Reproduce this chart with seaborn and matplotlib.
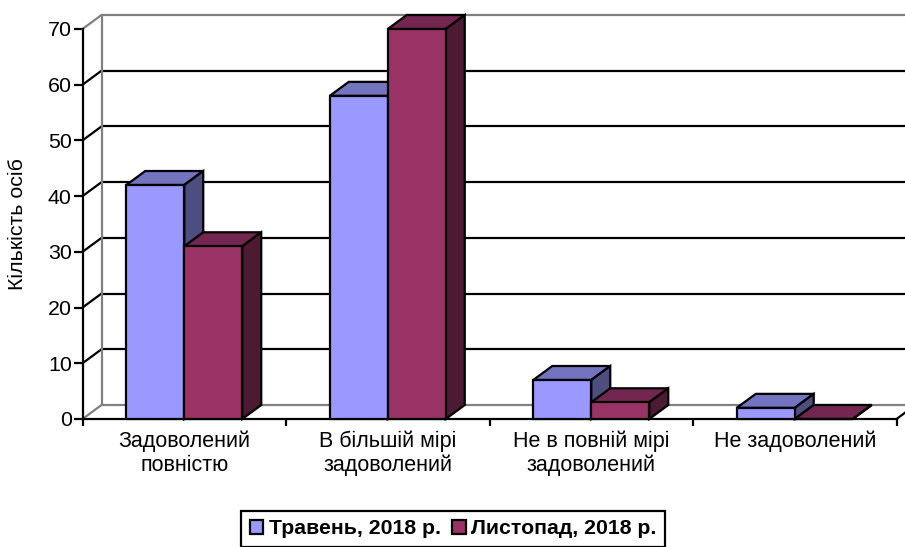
import matplotlib
matplotlib.use("Agg")
import matplotlib.pyplot as plt
import pandas as pd
import seaborn as sns
from matplotlib.patches import Polygon

categories = ["Задоволений\nповністю", "В більшій мірі\nзадоволений",
              "Не в повній мірі\nзадоволений", "Не задоволений"]
series_names = ["Травень, 2018 р.", "Листопад, 2018 р."]
may_values = [42, 58, 7, 2]
nov_values = [31, 70, 3, 0]
y_ticks = [0, 10, 20, 30, 40, 50, 60, 70]

front_colors = ["#9999FF", "#993366"]
top_colors = ["#7373BF", "#732650"]
side_colors = ["#4D4D80", "#4D1A33"]
GRAY = "#808080"
LW = 1.6

# chart size in pixels, the 3d effect is a fixed pixel offset
W, H = 905, 547
LEFT, RIGHT, TOP, BOTTOM = 82.5, 896.5, 29, 419
DEPTH_X, DEPTH_Y = 19, 14

sns.set_theme(style="white")
plt.rcParams["font.family"] = ["Liberation Sans", "DejaVu Sans"]
plt.rcParams["text.color"] = "black"

df = pd.DataFrame({
    "category": categories * 2,
    "series": [series_names[0]] * 4 + [series_names[1]] * 4,
    "value": may_values + nov_values,
})

fig = plt.figure(figsize=(W / 100, H / 100), dpi=100)
ax = fig.add_axes([LEFT / W, 1 - BOTTOM / H, (RIGHT - LEFT) / W, (BOTTOM - TOP) / H])

sns.barplot(data=df, x="category", y="value", hue="series", order=categories,
            hue_order=series_names, palette=front_colors, saturation=1, width=0.57, gap=0,
            edgecolor="black", linewidth=LW, legend=False, ax=ax)

ax.set_xlim(-0.5, 3.5)
ax.set_ylim(0, 70)
dx = DEPTH_X * 4 / (RIGHT - LEFT)
dy = DEPTH_Y * 70 / (BOTTOM - TOP)

# back wall and side wall
for v in y_ticks:
    c = GRAY if v in (0, 70) else "black"
    ax.plot([-0.5 + dx, 3.5 + dx], [v + dy, v + dy], color=c, lw=LW, clip_on=False, zorder=1)
    ax.plot([-0.5, -0.5 + dx], [v, v + dy], color=c, lw=LW, clip_on=False, zorder=1)
ax.plot([-0.5 + dx, -0.5 + dx], [dy, 70 + dy], color=GRAY, lw=LW, clip_on=False, zorder=1.1)
ax.plot([3.5, 3.5 + dx], [0, dy], color="black", lw=LW, clip_on=False, zorder=1)

# top and side faces for every bar
bars = []
for k, cont in enumerate(ax.containers):
    bars += [(b, k) for b in cont]
bars.sort(key=lambda item: item[0].get_x())
for i, (b, k) in enumerate(bars):
    x0, x1 = b.get_x(), b.get_x() + b.get_width()
    h = b.get_height()
    z = 3 + i
    top = Polygon([(x0, h), (x0 + dx, h + dy), (x1 + dx, h + dy), (x1, h)], closed=True,
                  facecolor=top_colors[k], edgecolor="black", lw=LW, clip_on=False, zorder=z)
    side = Polygon([(x1, 0), (x1 + dx, dy), (x1 + dx, h + dy), (x1, h)], closed=True,
                   facecolor=side_colors[k], edgecolor="black", lw=LW, clip_on=False, zorder=z)
    ax.add_patch(top)
    ax.add_patch(side)
    b.set_zorder(z + 0.5)
    b.set_clip_on(False)

sns.despine(ax=ax, top=True, right=True)
for s in ("left", "bottom"):
    ax.spines[s].set_linewidth(LW)
    ax.spines[s].set_color("black")
    ax.spines[s].set_zorder(2)

ax.set_yticks(y_ticks)
ax.tick_params(axis="y", which="major", left=True, length=6.5, width=LW, color="black",
               labelsize=15.4, pad=1.2, labelcolor="black")
ax.set_xticks([-0.5, 0.5, 1.5, 2.5, 3.5], labels=[""] * 5)
ax.set_xticks(range(4), labels=categories, minor=True)
ax.tick_params(axis="x", which="major", bottom=True, length=5, width=LW, color="black")
ax.tick_params(axis="x", which="minor", bottom=False, length=0, labelsize=15.5, pad=8,
               labelcolor="black")
for t in ax.get_xticklabels(minor=True):
    t.set_linespacing(1.2)
ax.set_xlabel("")
ax.set_ylabel("Кількість осіб", fontsize=15.4, labelpad=0, color="black")
ax.yaxis.set_label_coords((27 - LEFT) / (RIGHT - LEFT), (BOTTOM - 224) / (BOTTOM - TOP))

handles = [ax.containers[0], ax.containers[1]]
leg = fig.legend(handles, series_names, loc="upper left", ncol=2,
                 bbox_to_anchor=(241 / W, 1 - 511 / H), bbox_transform=fig.transFigure,
                 prop={"weight": "bold", "size": 15.3}, frameon=True, fancybox=False,
                 framealpha=1, edgecolor="black", borderaxespad=0, borderpad=0.4,
                 handlelength=0.65, handleheight=0.65, handletextpad=0.25, columnspacing=0.55)
leg.get_frame().set_linewidth(LW)
for t in leg.get_texts():
    t.set_color("black")

fig.savefig("out.png", dpi=100)
